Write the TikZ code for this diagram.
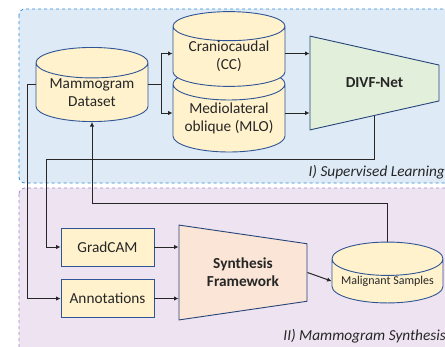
\documentclass[tikz,border=0pt]{standalone}
\usepackage{fontspec}
\setmainfont{Carlito}
\usetikzlibrary{shapes.geometric,arrows.meta,calc}

\definecolor{stageblue}{HTML}{DEEBF7}
\definecolor{stageblueline}{HTML}{2E8BD8}
\definecolor{stagepurple}{HTML}{EEE3F1}
\definecolor{stagepurpleline}{HTML}{A883CC}
\definecolor{dbyellow}{HTML}{FFF2CC}
\definecolor{edgeblue}{HTML}{2F5597}
\definecolor{netgreen}{HTML}{E2EFDA}
\definecolor{synthpeach}{HTML}{FBE5D6}
\definecolor{inkgray}{HTML}{262626}

\newcommand{\basefont}{\fontsize{15.3}{18}\selectfont}

\tikzset{
  stage/.style={rounded corners=6pt, dashed, line width=0.8pt},
  stagelabel/.style={anchor=east, inner sep=0pt, font=\basefont\itshape, text=inkgray},
  db/.style={cylinder, shape border rotate=90, aspect=0.36, draw=edgeblue,
    fill=dbyellow, line width=0.9pt, align=center, inner sep=0pt,
    text=inkgray, font=\basefont, anchor=shape center},
  box/.style={rectangle, draw=edgeblue, fill=dbyellow, line width=0.9pt,
    minimum width=93pt, minimum height=38pt, inner sep=0pt, text=inkgray,
    font=\basefont},
  funnel/.style={trapezium, shape border rotate=270, trapezium stretches=true,
    draw=edgeblue!80!black, line width=0.9pt, align=center, inner sep=0pt,
    font=\basefont\bfseries, text=inkgray},
  link/.style={-{Latex[length=4.5pt,width=4.5pt]}, line width=1pt, draw=inkgray},
}

\begin{document}
\begin{tikzpicture}[x=1pt, y=-1pt]
  \useasboundingbox (0,0) rectangle (445,346);
  \fill[white] (0,0) rectangle (445,346);

  % the two stages
  \draw[stage, fill=stageblue, draw=stageblueline] (19,9) rectangle (460,183);
  \draw[stage, fill=stagepurple, draw=stagepurpleline] (19,188) rectangle (460,360);
  \node[stagelabel] (suplabel) at (445,172) {I) Supervised Learning};
  \node[stagelabel] (synlabel) at (446,336) {II) Mammogram Synthesis};

  % stage I: data and classifier
  \node[db, minimum width=112pt, minimum height=73pt] (mammo) at (92,84.5) {Mammogram\\Dataset};
  \node[db, minimum width=112pt, minimum height=84pt] (mlo) at (229,110) {Mediolateral\\oblique (MLO)};
  \node[db, minimum width=112pt, minimum height=68pt] (cc) at (229,49) {Craniocaudal\\(CC)};
  \node[funnel, trapezium angle=82, minimum width=94pt, minimum height=129pt,
    fill=netgreen] (divf) at (374.5,83) {DIVF-Net};

  % stage II: synthesis
  \node[box] (gradcam) at (107.5,247) {GradCAM};
  \node[box] (annot) at (107.5,298.5) {Annotations};
  \node[funnel, trapezium angle=82.6, minimum width=95pt, minimum height=128pt,
    fill=synthpeach] (synth) at (243,272.5) {Synthesis\\Framework};
  \node[db, minimum width=111pt, minimum height=55pt, font=\fontsize{12}{14}\selectfont]
    (malig) at (387.5,272.5) {Malignant Samples};

  % connectors
  \coordinate (split) at (161,84);
  \coordinate (ccrow) at (0,53.5);
  \coordinate (mlorow) at (0,113);
  \coordinate (fb) at (46,159);
  \coordinate (ret) at (92,203);
  \draw[link] (mammo.east |- split) -- (split) |- (cc.west |- ccrow);
  \draw[link] (split) |- (mlo.west |- mlorow);
  \draw[link] (cc.east |- ccrow) -- (divf.west |- ccrow);
  \draw[link] (mlo.east |- mlorow) -- (divf.west |- mlorow);
  \draw[link] (divf.south) |- (fb) |- (gradcam.west);
  \draw[link] (mammo.west |- split) -- ++(-8,0) |- (annot.west);
  \draw[link] (malig.north) |- (ret) -- (mammo.south);
  \draw[link] (gradcam.east) -- (gradcam.east -| synth.west);
  \draw[link] (annot.east) -- (annot.east -| synth.west);
  \draw[link] (synth.east) -- (malig.west);
\end{tikzpicture}
\end{document}
